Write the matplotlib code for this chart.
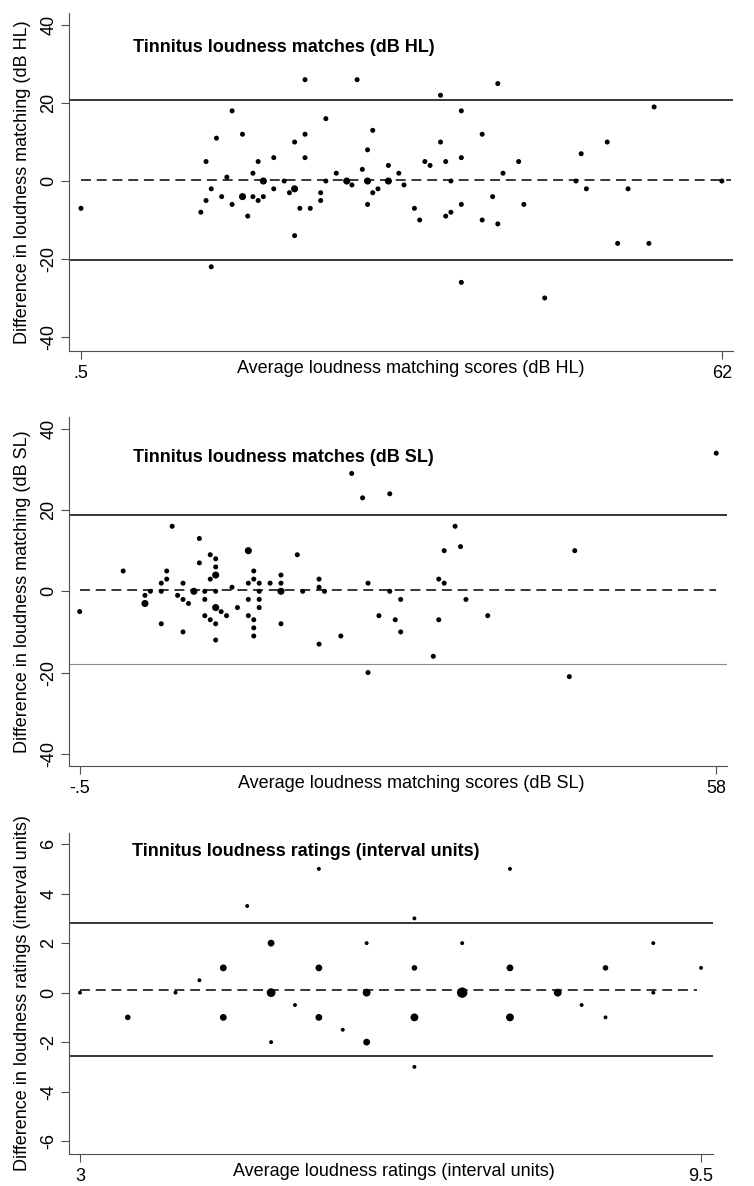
import numpy as np
import matplotlib.pyplot as plt

plt.rcParams['font.family'] = ['Liberation Sans', 'DejaVu Sans']
plt.rcParams['axes.unicode_minus'] = False

W, H = 754, 1186

# --- panel 1: loudness matches, dB HL ---
hl_avg = [0.5, 12, 12.5, 12.5, 13, 13, 13.5, 14, 14.5, 15, 15, 16, 16, 16.5, 17, 17,
          17.5, 17.5, 18, 18, 19, 19, 20, 20.5, 21, 21, 21, 21.5, 22, 22, 22, 22.5,
          23.5, 23.5, 24, 24, 25, 26, 26.5, 27, 27.5, 28, 28, 28, 28.5, 28.5, 29, 30,
          30, 31, 31.5, 32.5, 33, 33.5, 34, 35, 35, 35.5, 35.5, 36, 36, 37, 37, 37, 37,
          39, 39, 40, 40.5, 40.5, 41, 42.5, 43, 45, 48, 48.5, 49, 51, 52, 53, 55, 55.5, 62]
hl_diff = [-7, -8, 5, -5, -2, -22, 11, -4, 1, 18, -6, 12, -4, -9, 2, -4,
           5, -5, -4, 0, 6, -2, 0, -3, 10, -2, -14, -7, 26, 12, 6, -7,
           -3, -5, 16, 0, 2, 0, -1, 26, 3, 8, 0, -6, 13, -3, -2, 4,
           0, 2, -1, -7, -10, 5, 4, 22, 10, 5, -9, 0, -8, 18, 6, -6, -26,
           12, -10, -4, 25, -11, 2, 5, -6, -30, 0, 7, -2, 10, -16, -2, -16, 19, 0]
hl_n = [1, 1, 1, 1, 1, 1, 1, 1, 1, 1, 1, 1, 2, 1, 1, 1,
        1, 1, 1, 2, 1, 1, 1, 1, 1, 2, 1, 1, 1, 1, 1, 1,
        1, 1, 1, 1, 1, 2, 1, 1, 1, 1, 2, 1, 1, 1, 1, 1,
        2, 1, 1, 1, 1, 1, 1, 1, 1, 1, 1, 1, 1, 1, 1, 1, 1,
        1, 1, 1, 1, 1, 1, 1, 1, 1, 1, 1, 1, 1, 1, 1, 1, 1, 1]
hl_limits = [20.9, 0.35, -20.2]   # upper LoA, mean, lower LoA

# --- panel 2: loudness matches, dB SL ---
sl_avg = [-0.5, 3.5, 5.5, 5.5, 6, 7, 7, 7, 7.5, 7.5, 8, 8.5, 9, 9, 9, 9.5, 10,
          10.5, 10.5, 11, 11, 11, 11.5, 11.5, 11.5, 12, 12, 12, 12, 12, 12, 12,
          12.5, 13, 13.5, 14, 15, 15, 15, 15, 15.5, 15.5, 15.5, 15.5, 15.5,
          16, 16, 16, 16, 17, 18, 18, 18, 18, 19.5, 20, 21.5, 21.5, 21.5, 22,
          23.5, 24.5, 25.5, 26, 26, 27, 28, 28, 28.5, 29, 29, 32, 32.5, 32.5,
          33, 33, 34, 34.5, 35, 37, 44.5, 45, 58]
sl_diff = [-5, 5, -1, -3, 0, 2, 0, -8, 5, 3, 16, -1, 2, -2, -10, -3, 0,
           13, 7, 0, -2, -6, 9, 3, -7, 8, 6, 4, 0, -4, -8, -12,
           -5, -6, 1, -4, 10, 2, -2, -6, 5, 3, -7, -9, -11,
           2, 0, -2, -4, 2, 4, 2, 0, -8, 9, 0, 3, 1, -13, 0,
           -11, 29, 23, 2, -20, -6, 24, 0, -7, -2, -10, -16, 3, -7,
           10, 2, 16, 11, -2, -6, -21, 10, 34]
sl_n = [1, 1, 1, 2, 1, 1, 1, 1, 1, 1, 1, 1, 1, 1, 1, 1, 2,
        1, 1, 1, 1, 1, 1, 1, 1, 1, 1, 2, 1, 2, 1, 1,
        1, 1, 1, 1, 2, 1, 1, 1, 1, 1, 1, 1, 1,
        1, 1, 1, 1, 1, 1, 1, 2, 1, 1, 1, 1, 1, 1, 1,
        1, 1, 1, 1, 1, 1, 1, 1, 1, 1, 1, 1, 1, 1,
        1, 1, 1, 1, 1, 1, 1, 1, 1]
sl_limits = [18.9, 0.42, -17.9]

# --- panel 3: loudness ratings, interval units ---
rt_avg = [3, 3.5, 4, 4.25, 4.5, 4.5, 4.75, 5, 5, 5, 5.25, 5.5, 5.5, 5.5, 5.75,
          6, 6, 6, 6.5, 6.5, 6.5, 6.5, 7, 7, 7.5, 7.5, 7.5, 8, 8.25, 8.5, 8.5,
          9, 9, 9.5]
rt_diff = [0, -1, 0, 0.5, 1, -1, 3.5, 2, 0, -2, -0.5, 5, 1, -1, -1.5,
           2, 0, -2, 3, 1, -1, -3, 2, 0, 5, 1, -1, 0, -0.5, 1, -1,
           2, 0, 1]
rt_n = [1, 2, 1, 1, 3, 3, 1, 3, 5, 1, 1, 1, 3, 3, 1,
        1, 4, 3, 1, 2, 4, 1, 1, 7, 1, 3, 4, 4, 1, 2, 1,
        1, 1, 1]
rt_limits = [2.83, 0.12, -2.55]


def draw_panel(box, avg, diff, n, limits, xlim, ylim, yticks, xticks, xticklabels,
               dash_end, base_s, low_color, title, title_xy, xlabel, xlabel_cx, ylabel):
    left, top, right, bottom = box
    wpx, hpx = right - left, bottom - top
    ax = fig.add_axes([left / W, 1 - bottom / H, wpx / W, hpx / H])

    upper, mean, lower = limits
    ax.axhline(upper, color='black', lw=1.1, zorder=1)
    if low_color == 'black':
        ax.axhline(lower, color='black', lw=1.1, zorder=1)
    else:
        ax.axhline(lower, color=low_color, lw=0.8, zorder=1)
    ax.plot([xticks[0], dash_end], [mean, mean], color='black', lw=1.1,
            dashes=(6.5, 3.8), zorder=1)

    ax.scatter(avg, diff, s=np.array(n) * base_s, c='black', linewidths=0, zorder=3)

    ax.set_xlim(xlim)
    ax.set_ylim(ylim)
    ax.set_yticks(yticks)
    ax.set_xticks(xticks)
    ax.set_xticklabels(xticklabels)
    ax.tick_params(axis='both', labelsize=13, length=5.5, width=0.8, color='0.3', pad=3)
    ax.tick_params(axis='x', pad=4.5)
    ax.tick_params(axis='y', labelrotation=90)
    for lbl in ax.get_yticklabels():
        lbl.set_va('center')

    for s in ['top', 'right']:
        ax.spines[s].set_visible(False)
    for s in ['left', 'bottom']:
        ax.spines[s].set_color('0.3')
        ax.spines[s].set_linewidth(0.8)

    ax.text((title_xy[0] - left) / wpx, 1 - (title_xy[1] - top) / hpx, title,
            transform=ax.transAxes, fontsize=13, fontweight='bold',
            ha='left', va='center')

    ax.set_xlabel(xlabel, fontsize=13)
    ax.xaxis.set_label_coords((xlabel_cx - left) / wpx, -9 / hpx)
    ax.set_ylabel(ylabel, fontsize=13)
    ax.yaxis.set_label_coords((31 - left) / wpx, 0.5)
    return ax


fig = plt.figure(figsize=(W / 100, H / 100), dpi=100)

draw_panel((69, 13, 733, 351), hl_avg, hl_diff, hl_n, hl_limits,
           (-0.65, 63.07), (-43.6, 43.1), [-40, -20, 0, 20, 40], [0.5, 62], ['.5', '62'],
           62.9, 13, 'black', 'Tinnitus loudness matches (dB HL)', (133, 47),
           'Average loudness matching scores (dB HL)', 411,
           'Difference in loudness matching (dB HL)')

draw_panel((69, 417, 727, 766), sl_avg, sl_diff, sl_n, sl_limits,
           (-1.48, 58.99), (-43.0, 42.9), [-40, -20, 0, 20, 40], [-0.5, 58], ['-.5', '58'],
           58, 13, '0.55', 'Tinnitus loudness matches (dB SL)', (133, 458),
           'Average loudness matching scores (dB SL)', 411,
           'Difference in loudness matching (dB SL)')

draw_panel((69, 833, 713, 1154), rt_avg, rt_diff, rt_n, rt_limits,
           (2.885, 9.625), (-6.52, 6.45), [-6, -4, -2, 0, 2, 4, 6], [3, 9.5], ['3', '9.5'],
           9.46, 8, 'black', 'Tinnitus loudness ratings (interval units)', (132, 851),
           'Average loudness ratings (interval units)', 394,
           'Difference in loudness ratings (interval units)')

fig.savefig('out.png', dpi=100)
